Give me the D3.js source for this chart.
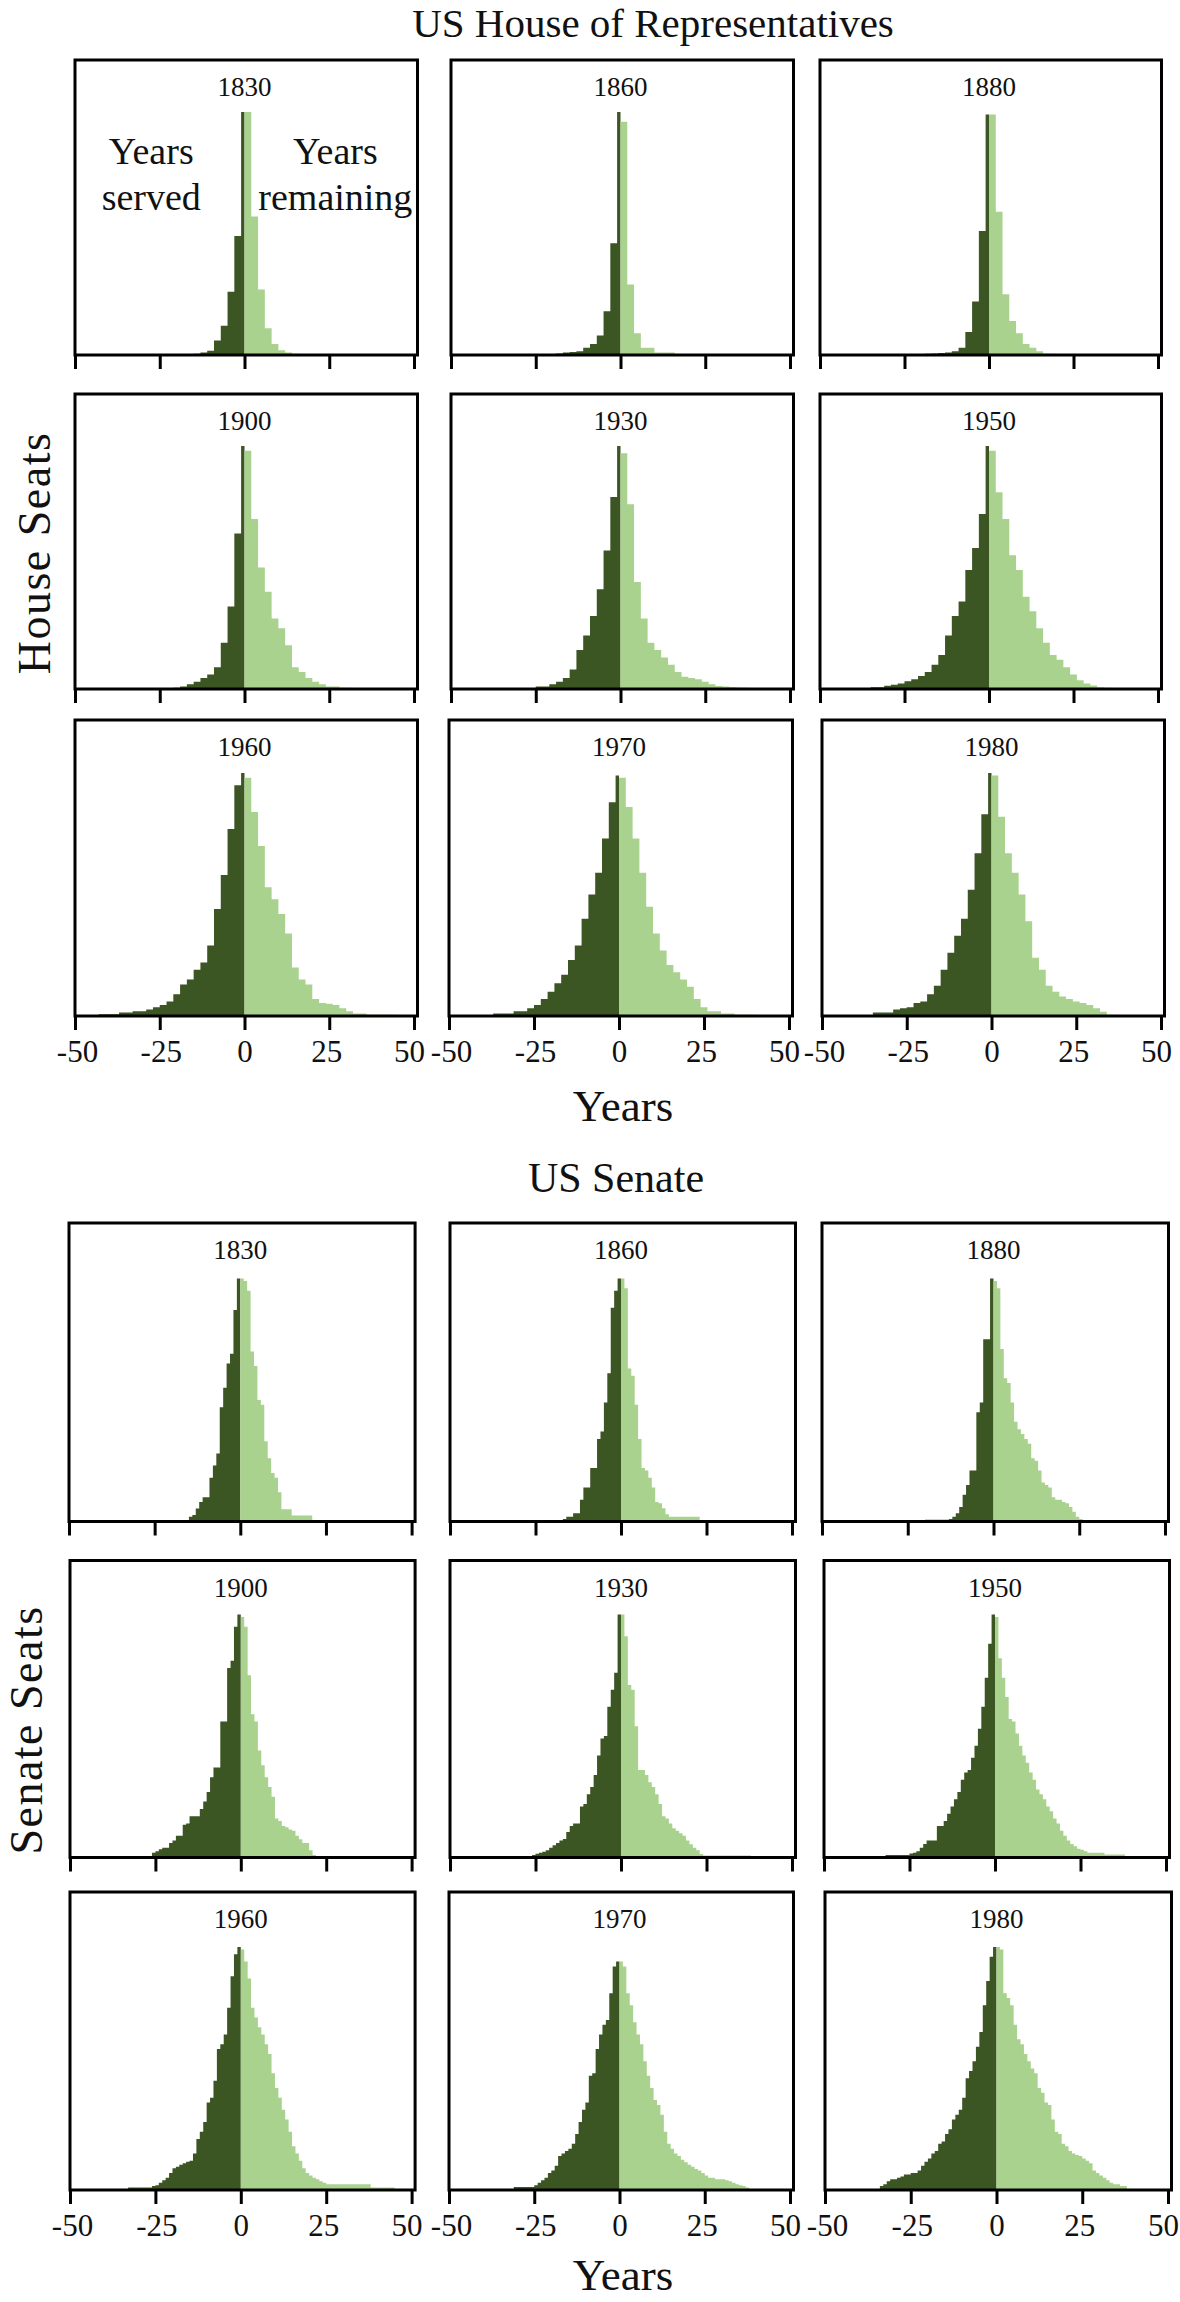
<!DOCTYPE html>
<html><head><meta charset="utf-8">
<script src="https://cdn.jsdelivr.net/npm/d3@7"></script>
<style>
body{margin:0;background:#fff}
svg{display:block}
text{font-family:"Liberation Serif","Times New Roman",serif;fill:#111}
</style>
</head><body>
<svg id="chart" width="1180" height="2302"></svg>
<script>
// ---------------- data ----------------
const years = ["1830","1860","1880","1900","1930","1950","1960","1970","1980"];
const tickValues = [-50,-25,0,25,50];
const chamberTitles = ["US House of Representatives","US Senate"];
const seatLabels = ["House Seats","Senate Seats"];
const xLabel = "Years";

// House: share of peak (%) per 2-year bin, going outward from 0 (first "served" bin is 1 year wide)
const houseServed = [
  [100,49,26,12,6,1.7,1,0.5],
  [100,46,18,8,4.5,3,1.5,1.2,1,0.6],
  [99,51,22,9.5,3,1.5,1,0.8,0.6,0.5],
  [100,64,34,19,9,6,4.5,3,2,1,0.5],
  [100,79,57,41,30,22,16,8,4.5,3,2,1,1],
  [100,72,58,49,36,30,22,14,10,7,5.4,4,3.2,2.3,1.8,1.3,0.7,0.7,0.4,0.3,0.3,0.3,0.3,0.3],
  [100,95,77,58,44,29,22,19,15,13,9,6,4.5,3.6,2.7,2,2,1.4,1.4,0.7,0.7,0.7],
  [99,88,73,59,50,40,29,23,17,13.5,10,7,4.5,3.2,2,2,1,1,1],
  [100,83,67,52,40,33,26,19,12.5,9,6,5.4,3.6,3.2,2.7,1.4,1.4,1.4]
];
const houseRemaining = [
  [100,57,27,11,4.5,2,1,0.5],
  [96,29,9,3,3,1,1,1],
  [99,59,25,14,9,4.5,3,1.5,0.5,0.5,0.4,0.4,0.3,0.3,0.3],
  [98,70,50,40,29,25,18,9,7,4.5,3,2,1,1,0.5,0.5],
  [97,76,44,29,19,16,13,10,7,5,4.5,4,3,2,1.2,1,0.8,0.6,0.5,0.4],
  [98,81,70,55,49,38,32,25,19,14,12,9,6,3.6,2.3,1.4,0.7,0.5,0.4,0.3,0.3,0.3],
  [98,84,70,53,48,42,34,20,15,13,7,5.4,5,4.5,3.2,2,1,1,0.5,0.5,0.5,0.5,0.4,0.4,0.4],
  [98,86,73,59,45,34,27,21,18,15,12,7,3.6,2,2,1,1,0.5,0.5,0.5],
  [99,82,67,59,50,39,24,19,12.5,10,8,7,6,5.4,4.5,3.2,1.8,0.5]
];
// Senate: share of peak (%) per 1-year bin, going outward from 0
const senateServed = [
  [100,87,69,65,55,47,28,23,18,10,10,8,5.4,2.7,2],
  [100,95,88,61,49,37,34,22,22,14,14,9,3.4,3.4,2,2,1],
  [100,75,75,49,45,21,21,15,11,6,3.4,2,1,0.7,0.7,0.7,0.7,0.7,0.7,0.7],
  [100,95,81,78,56,56,37,37,33,27,23,20,17,17,17,14,13.5,9,9,7,6,4,4,3.4,2.6,2],
  [100,76,69,62,50,49,42,34,29,26,22,21,14,14,13,10.5,7.6,7,6,5,4,3,2.4,2,1.5,1],
  [100,88,74,62,53,46,41,36,35,32,27,24,21,18,15,13,13,7,7,7,5.6,4,2.6,2,1.6,1,1,1,1,1,1,1],
  [100,97,88,75,64,60,58,45,38,36,28,24,21,15,12,11.6,11,10.4,9.6,9,7,5,4,3,2,1.6,1,1,1,1,1,1,1],
  [94,92,81,70,68,64,58,48,47,36,33,28,23,19,17,16,15,14,10,8,7,5,4,3,2,1.2,1.2,1.2,1.2,1.2,1.2],
  [100,96,86,76,65,59,53,49,46,38,33,31,29,25,23,20,19,16,15,13,11.6,10,8,7,7,6.4,6.4,5.6,5,4.4,4.4,3.6,2.4,1.6]
];
const senateRemaining = [
  [100,99,95,70,64,50,48,33,26,20,18,12,5,5,5,2.5,2.5,2.5,2.5,2.5,2.5],
  [100,96,63,60,48,34,22,21,18,14,8,7.5,5.5,3,2,2,2,2,2,2,2,2,2],
  [99,96,71,59,57,49,41,38,36,34,32,26,25,21,16,15,14,10,9,9,8,7.5,6,4,2,1],
  [99,95,75,59,56,44,38,33,29,25,16,15,13,12.5,11.5,11,9,7.5,6,6,3,1],
  [100,91,71,69,54,36,36,34,31,29,26,22,17,16,14,12,11,10,9,7,5.5,4,3,1.4,0.8,0.8,0.8,0.8,0.8,0.8,0.8,0.8,0.8,0.8,0.8,0.8,0.8,0.8],
  [99,82,74,66,57,56,51,46,42,39,35,32,28,26,24,21,19,16,14,11,9,7,5.6,4.6,3.6,3.2,2.6,2,2,2,2,2,1.2,1.2,1.2,1.2,1.2,1.2],
  [99,94,87,75,71,67,64,60,56,48,42,38,33,29,24,18,15,12,9,7,6,5,4.4,3.6,3,2.4,2.4,2.4,2.4,2.4,2.4,2.4,2.4,2.4,2.4,2.4,2.4,2.4,1,1,1,1,1,1,1],
  [94,92,81,76,69,64,60,53,47,42,37,35,31,24,19,17,15,14,12.4,11.4,10.4,9.6,8.6,8,7,6,5,5,4.4,4.4,4.4,4,3.6,3,2.4,2,1.6,1],
  [100,99,81,79,76,68,62,60,56,53,50,48,42,40,36,35,29,24,23,19,18,16,15,14.4,14,13,12,11,8,7,6,5,4,3,2.4,2.4,1.6,1.6]
];

// ---------------- layout ----------------
const colors = {served:"#3b5523", remaining:"#a9d28e"};
const peakH = 243;
const tickLabelShift = {"-50":2, "-25":1, "0":0, "25":-3, "50":-5};
const chambers = [
  { title: chamberTitles[0], seat: seatLabels[0], served: houseServed, remaining: houseRemaining,
    servedBin: i => i === 0 ? [-1,0] : [-(2*i+1), -(2*i-1)],
    remainingBin: i => [2*i, 2*i+2],
    tops:[60,394,720], axes:[355,689,1016],
    cols:[[[75,414],[451,790],[820,1158]],[[75,414],[451,790],[820,1158]],[[75,414],[449,789],[822,1161]]],
    titleX:653, titleY:37, seatX:50, seatY:553, xlabY:1121 },
  { title: chamberTitles[1], seat: seatLabels[1], served: senateServed, remaining: senateRemaining,
    servedBin: i => [-(i+1), -i],
    remainingBin: i => [i, i+1],
    tops:[1223,1560.5,1892], axes:[1521.5,1857.5,2190],
    cols:[[[69,411.6],[450,792],[822,1165]],[[70,411.6],[450,792],[824,1166]],[[70,411.6],[449,790],[825,1168]]],
    titleX:616, titleY:1191.5, seatX:42, seatY:1730, xlabY:2290 }
];

const svg = d3.select("#chart");

function stepPoints(values, binFn) {
  const bins = values.map((v,i) => { const b = binFn(i); return {x0:b[0], x1:b[1], v}; });
  bins.sort((a,b) => a.x0 - b.x0);
  const pts = bins.map(b => ({x:b.x0, v:b.v}));
  const last = bins[bins.length-1];
  pts.push({x:last.x1, v:last.v});
  return pts;
}

chambers.forEach((ch, ci) => {
  svg.append("text").attr("x", ch.titleX).attr("y", ch.titleY)
    .attr("text-anchor","middle").style("font-size", ci === 0 ? "41px" : "42px").text(ch.title);
  svg.append("text").attr("transform", `translate(${ch.seatX},${ch.seatY}) rotate(-90)`)
    .attr("text-anchor","middle").style("font-size","46px").style("letter-spacing","1.5px").text(ch.seat);
  svg.append("text").attr("x", 623).attr("y", ch.xlabY)
    .attr("text-anchor","middle").style("font-size","45px").text(xLabel);

  years.forEach((yr, k) => {
    const r = Math.floor(k/3), c = k % 3;
    const [xa, xb] = ch.cols[r][c];
    const top = ch.tops[r], axisY = ch.axes[r];
    const x = d3.scaleLinear().domain([-50,50]).range([xa, xb]);
    const y = d3.scaleLinear().domain([0,100]).range([axisY, axisY - peakH]);
    const g = svg.append("g");

    const area = d3.area().curve(d3.curveStepAfter)
      .x(d => x(d.x)).y0(y(0)).y1(d => y(d.v));
    g.append("path").datum(stepPoints(ch.served[k], ch.servedBin))
      .attr("d", area).attr("fill", colors.served);
    g.append("path").datum(stepPoints(ch.remaining[k], ch.remainingBin))
      .attr("d", area).attr("fill", colors.remaining);

    g.append("rect").attr("x", x(-50)).attr("y", top)
      .attr("width", x(50) + 3.5 - x(-50)).attr("height", axisY - top)
      .attr("fill","none").attr("stroke","#000").attr("stroke-width",3);

    const ax = d3.axisBottom(x).tickValues(tickValues).tickSize(14).tickSizeOuter(0)
      .tickFormat(d => String(d));
    const axG = g.append("g").attr("transform", `translate(0,${axisY})`).call(ax);
    axG.select(".domain").remove();
    axG.selectAll(".tick line").attr("stroke","#000").attr("stroke-width",3);
    axG.selectAll(".tick text").attr("y", 45.5).attr("dy", null)
      .attr("dx", d => tickLabelShift[String(d)])
      .style("font-size","31px").attr("fill","#111")
      .style("font-family","'Liberation Serif',serif");
    if (r < 2) axG.selectAll(".tick text").remove();

    g.append("text").attr("x", x(0)).attr("y", top + 36)
      .attr("text-anchor","middle").style("font-size","27px").text(yr);

    if (ci === 0 && k === 0) {
      const lbl = [["Years","served", x(-27.5)], ["Years","remaining", x(26.8)]];
      lbl.forEach(([a,b,cx]) => {
        g.append("text").attr("x", cx).attr("y", 164).attr("text-anchor","middle")
          .style("font-size","38px").text(a);
        g.append("text").attr("x", cx).attr("y", 210).attr("text-anchor","middle")
          .style("font-size","38px").text(b);
      });
    }
  });
});
</script>
</body></html>
